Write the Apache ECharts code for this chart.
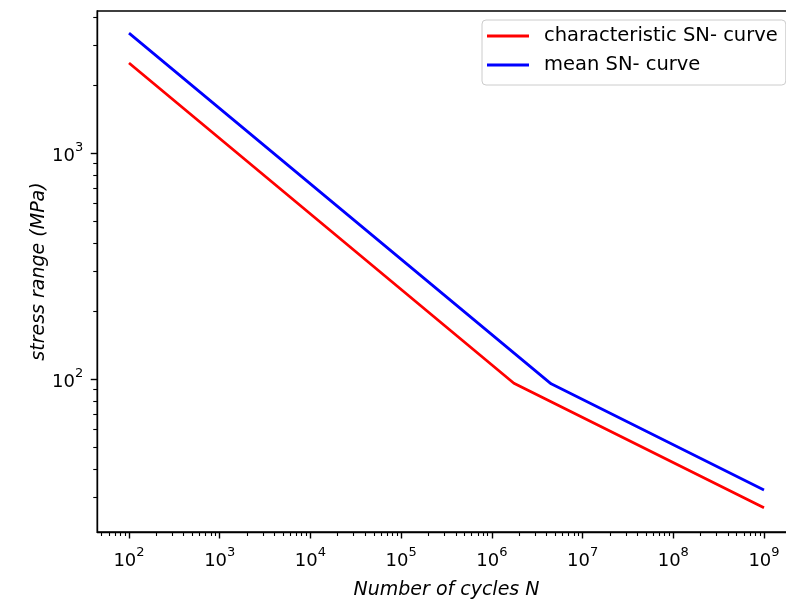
<!DOCTYPE html>
<html>
<head>
<meta charset="utf-8">
<script src="https://cdn.jsdelivr.net/npm/echarts@6/dist/echarts.min.js"></script>
<style>
  html, body { margin: 0; padding: 0; background: #ffffff; }
  #chart { width: 786px; height: 604px; }
</style>
</head>
<body>
<div id="chart"></div>
<script>
// S-N curves: [number of cycles N, stress range in MPa]
const seriesNames = ['characteristic SN- curve', 'mean SN- curve'];
const characteristicCurve = [[1e2, 2510], [1.75e6, 96], [1e9, 27]];
const meanCurve = [[1e2, 3400], [4.5e6, 95.5], [1e9, 32.4]];

// labelled decades on each axis
const xMajorTicks = [1e2, 1e3, 1e4, 1e5, 1e6, 1e7, 1e8, 1e9];
const yMajorTicks = [1e2, 1e3];

// unlabelled 2..9 x 10^k ticks of a log axis
function logMinorTicks(fromExp, toExp) {
  const out = [];
  for (let e = fromExp; e <= toExp; e++) {
    for (let m = 2; m <= 9; m++) out.push(m * Math.pow(10, e));
  }
  return out;
}
const xMinorTicks = logMinorTicks(1, 9);
const yMinorTicks = logMinorTicks(1, 3);

// view limits (log10)
const xLim = [1.65, 9.35];
const yLim = [1.3243, 3.6296];

const FONT = 'DejaVu Sans';

function powerLabel(v) {
  const e = Math.round(Math.log10(v));
  return '{b|10}{s|' + e + '}';
}
const powerRich = {
  b: { fontFamily: FONT, fontSize: 18, color: '#000', verticalAlign: 'bottom', lineHeight: 24 },
  s: { fontFamily: FONT, fontSize: 13, color: '#000', verticalAlign: 'top', lineHeight: 16 }
};

function logAxis(kind, lim, major, minor, isMinor) {
  const base = {
    type: 'log',
    logBase: 10,
    min: Math.pow(10, lim[0]),
    max: Math.pow(10, lim[1]),
    splitLine: { show: false },
    minorTick: { show: false },
    minorSplitLine: { show: false },
    position: kind === 'x' ? 'bottom' : 'left',
    offset: 0
  };
  if (isMinor) {
    return Object.assign(base, {
      axisLine: { show: false },
      axisLabel: { show: false, customValues: minor },
      axisTick: { show: true, inside: false, length: 4, lineStyle: { color: '#000', width: 1.1 }, customValues: minor }
    });
  }
  return Object.assign(base, {
    axisLine: { show: true, lineStyle: { color: '#000', width: 1.4 } },
    axisTick: { show: true, inside: false, length: 6.5, lineStyle: { color: '#000', width: 1.4 }, customValues: major },
    axisLabel: {
      show: true,
      customValues: major,
      formatter: powerLabel,
      rich: powerRich,
      margin: 14,
      hideOverlap: false,
      showMinLabel: true,
      showMaxLabel: true
    }
  });
}

const chart = echarts.init(document.getElementById('chart'), null, { renderer: 'canvas' });

const xMain = logAxis('x', xLim, xMajorTicks, xMinorTicks, false);
xMain.name = 'Number of cycles N';
xMain.nameLocation = 'middle';
xMain.nameGap = 49;
xMain.nameMoveOverlap = false;
xMain.nameTextStyle = { fontFamily: FONT, fontSize: 19, fontStyle: 'italic', color: '#000' };

const yMain = logAxis('y', yLim, yMajorTicks, yMinorTicks, false);
yMain.name = 'stress range (MPa)';
yMain.nameLocation = 'middle';
yMain.nameGap = 49;
yMain.nameMoveOverlap = false;
yMain.nameTextStyle = { fontFamily: FONT, fontSize: 19, fontStyle: 'italic', color: '#000' };

chart.setOption({
  animation: false,
  backgroundColor: '#ffffff',
  grid: {
    left: 97.25,
    top: 11,
    width: 698.5,
    bottom: 72,
    containLabel: false,
    outerBoundsMode: 'none',
    show: true,
    borderColor: '#000',
    borderWidth: 1.4,
    backgroundColor: 'transparent'
  },
  xAxis: [xMain, logAxis('x', xLim, xMajorTicks, xMinorTicks, true)],
  yAxis: [yMain, logAxis('y', yLim, yMajorTicks, yMinorTicks, true)],
  legend: {
    orient: 'vertical',
    left: 482,
    top: 20,
    padding: [6, 8, 10, 5],
    itemGap: 9,
    itemWidth: 42,
    itemHeight: 3,
    icon: 'rect',
    backgroundColor: 'rgba(255,255,255,0.8)',
    borderColor: '#cccccc',
    borderWidth: 1,
    borderRadius: 4,
    textStyle: { fontFamily: FONT, fontSize: 19.5, color: '#000', lineHeight: 20, padding: [0, 0, 0, 10] },
    data: seriesNames
  },
  series: [
    {
      name: seriesNames[0],
      type: 'line',
      data: characteristicCurve,
      showSymbol: false,
      symbol: 'none',
      color: '#ff0000',
      lineStyle: { color: '#ff0000', width: 2.8 }
    },
    {
      name: seriesNames[1],
      type: 'line',
      data: meanCurve,
      showSymbol: false,
      symbol: 'none',
      color: '#0000ff',
      lineStyle: { color: '#0000ff', width: 2.8 }
    }
  ]
});
</script>
</body>
</html>
